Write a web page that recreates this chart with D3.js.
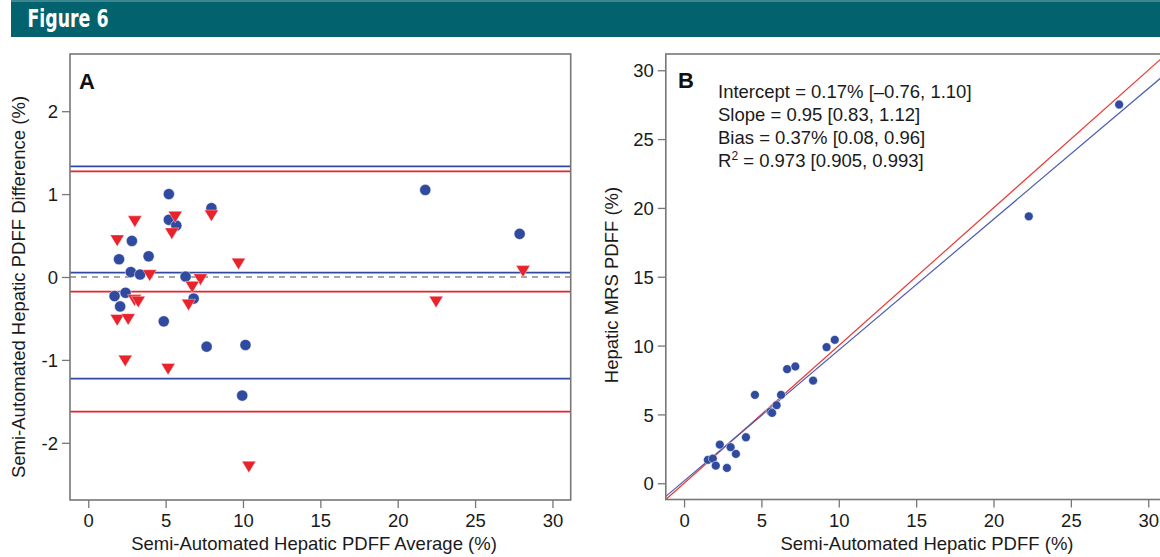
<!DOCTYPE html>
<html>
<head>
<meta charset="utf-8">
<script src="https://cdn.jsdelivr.net/npm/d3@7"></script>
<style>
  body { margin: 0; background: white; }
  svg { display: block; font-family: "Liberation Sans", Arial, Helvetica, sans-serif; }
</style>
</head>
<body>
<div id="fig"></div>
<script>
// Panel A: Bland-Altman, blue circles
const blueAvg  = [5.21, 5.21, 5.69, 7.96, 21.78, 27.88, 2.82, 1.99, 3.90, 2.75, 3.35, 6.29, 1.70, 2.41, 2.06, 6.81, 4.88, 7.65, 10.16, 9.95];
const blueDiff = [1.00, 0.69, 0.62, 0.83, 1.05, 0.52, 0.435, 0.214, 0.25, 0.06, 0.03, 0.005, -0.23, -0.19, -0.355, -0.26, -0.535, -0.84, -0.82, -1.43];
// Panel A: red triangles
const redAvg  = [1.87, 3.01, 5.62, 5.40, 7.96, 9.71, 3.97, 28.1, 7.25, 6.72, 2.99, 3.23, 6.48, 22.48, 1.87, 2.58, 2.39, 5.16, 10.38];
const redDiff = [0.44, 0.67, 0.725, 0.525, 0.74, 0.16, 0.02, 0.07, -0.03, -0.12, -0.28, -0.30, -0.335, -0.30, -0.52, -0.51, -1.01, -1.11, -2.29];
// bias and limits of agreement
const blueLines = [1.335, 0.053, -1.225];
const redLines  = [1.275, -0.177, -1.624];

// Panel B: semi-automated vs MRS
const semiPdff = [28.12, 22.28, 9.74, 9.21, 7.19, 6.66, 8.34, 4.58, 6.27, 5.98, 5.59, 5.69, 4.00, 2.31, 3.01, 3.35, 1.54, 1.86, 2.05, 2.77];
const mrsPdff  = [27.51, 19.39, 10.42, 9.89, 8.48, 8.29, 7.46, 6.42, 6.42, 5.67, 5.21, 5.11, 3.34, 2.81, 2.62, 2.13, 1.70, 1.79, 1.28, 1.11];
const fitIntercept = 0.17, fitSlope = 0.95;
const statLines = ["Intercept = 0.17% [\u20130.76, 1.10]", "Slope = 0.95 [0.83, 1.12]", "Bias = 0.37% [0.08, 0.96]", "R2 = 0.973 [0.905, 0.993]"];

const xTicks = [0, 5, 10, 15, 20, 25, 30];
const yTicksA = [-2, -1, 0, 1, 2];
const yTicksB = [0, 5, 10, 15, 20, 25, 30];

const W = 1160, H = 557;
const BLUE = "#2f4a9e", RED = "#e8232b", GREY = "#777";
const fs = 18.5;

const svg = d3.select("#fig").append("svg")
  .attr("width", W).attr("height", H)
  .attr("viewBox", [0, 0, W, H]);

// header bar
svg.append("rect").attr("x", 11).attr("y", 0).attr("width", W - 11).attr("height", 37).attr("fill", "#02636e");
svg.append("rect").attr("x", 11).attr("y", 0).attr("width", W - 11).attr("height", 2).attr("fill", "#3f8790");
svg.append("text")
  .attr("x", 27.5).attr("y", 27)
  .attr("fill", "white")
  .attr("font-family", "'Liberation Sans Narrow', 'DejaVu Sans Condensed', 'Arial Narrow', sans-serif")
  .attr("font-weight", "bold").attr("font-size", 24)
  .attr("textLength", 81).attr("lengthAdjust", "spacingAndGlyphs")
  .text("Figure 6");

const defs = svg.append("defs");

function panel(id, box, xDom, yDom, yTicks) {
  const x = d3.scaleLinear().domain(xDom).range([box.x0, box.x1]);
  const y = d3.scaleLinear().domain(yDom).range([box.y1, box.y0]);
  defs.append("clipPath").attr("id", "clip" + id)
    .append("rect").attr("x", box.x0).attr("y", box.y0)
    .attr("width", box.x1 - box.x0).attr("height", box.y1 - box.y0);

  const gx = svg.append("g").attr("transform", `translate(0,${box.y1})`)
    .call(d3.axisBottom(x).tickValues(xTicks).tickSize(8).tickPadding(6).tickFormat(d => String(d)));
  const gy = svg.append("g").attr("transform", `translate(${box.x0},0)`)
    .call(d3.axisLeft(y).tickValues(yTicks).tickSize(8).tickPadding(4).tickFormat(d => String(d)));
  [gx, gy].forEach(g => {
    g.select(".domain").remove();
    g.selectAll(".tick line").attr("stroke", GREY).attr("stroke-width", 1.3);
    g.selectAll(".tick text").attr("fill", "#1a1a1a").attr("font-size", fs)
      .attr("font-family", "'Liberation Sans', Arial, sans-serif");
  });
  gy.selectAll(".tick text").attr("dy", "0.36em");

  const plot = svg.append("g").attr("clip-path", `url(#clip${id})`);
  return { x, y, plot };
}

function frame(box) {
  svg.append("rect")
    .attr("x", box.x0).attr("y", box.y0)
    .attr("width", box.x1 - box.x0).attr("height", box.y1 - box.y0)
    .attr("fill", "none").attr("stroke", GREY).attr("stroke-width", 1.6);
}

// ---------- Panel A ----------
const boxA = { x0: 70, x1: 570.7, y0: 54, y1: 500 };
const A = panel("A", boxA, [-1.18, 31.18], [-2.69, 2.69], yTicksA);

A.plot.append("line")
  .attr("x1", boxA.x0).attr("x2", boxA.x1)
  .attr("y1", A.y(0)).attr("y2", A.y(0))
  .attr("stroke", "#888").attr("stroke-width", 1.6).attr("stroke-dasharray", "6,5");

A.plot.selectAll(".bl").data(blueLines).join("line")
  .attr("x1", boxA.x0).attr("x2", boxA.x1)
  .attr("y1", d => A.y(d)).attr("y2", d => A.y(d))
  .attr("stroke", BLUE).attr("stroke-width", 1.8);
A.plot.selectAll(".rl").data(redLines).join("line")
  .attr("x1", boxA.x0).attr("x2", boxA.x1)
  .attr("y1", d => A.y(d)).attr("y2", d => A.y(d))
  .attr("stroke", RED).attr("stroke-width", 1.8);

A.plot.selectAll(".bp").data(d3.range(blueAvg.length)).join("circle")
  .attr("cx", i => A.x(blueAvg[i])).attr("cy", i => A.y(blueDiff[i]))
  .attr("r", 5.6).attr("fill", BLUE)
  .attr("stroke", "white").attr("stroke-width", 0.5);

// downward triangle marker
const tri = (cx, cy, s) => `M${cx - s},${cy - s * 0.8}L${cx + s},${cy - s * 0.8}L${cx},${cy + s * 0.85}Z`;
A.plot.selectAll(".rp").data(d3.range(redAvg.length)).join("path")
  .attr("d", i => tri(A.x(redAvg[i]), A.y(redDiff[i]), 7))
  .attr("fill", RED).attr("stroke", "white").attr("stroke-width", 0.4);

frame(boxA);

svg.append("text").attr("x", 79).attr("y", 88.5)
  .attr("font-weight", "bold").attr("font-size", 22).attr("fill", "#111").text("A");

svg.append("text")
  .attr("x", 314).attr("y", 550)
  .attr("text-anchor", "middle").attr("font-size", fs).attr("fill", "#1a1a1a")
  .text("Semi-Automated Hepatic PDFF Average (%)");
svg.append("text")
  .attr("transform", "translate(25,287) rotate(-90)")
  .attr("text-anchor", "middle").attr("font-size", fs).attr("fill", "#1a1a1a")
  .text("Semi-Automated Hepatic PDFF Difference (%)");

// ---------- Panel B ----------
const boxB = { x0: 665.8, x1: 1166.5, y0: 54, y1: 499.5 };
const B = panel("B", boxB, [-1.18, 31.18], [-1.18, 31.18], yTicksB);
const xd = B.x.domain();

B.plot.append("line")
  .attr("x1", B.x(xd[0])).attr("y1", B.y(xd[0]))
  .attr("x2", B.x(xd[1] + 3)).attr("y2", B.y(xd[1] + 3))
  .attr("stroke", "#ea3a36").attr("stroke-width", 1.2);
B.plot.append("line")
  .attr("x1", B.x(xd[0])).attr("y1", B.y(fitIntercept + fitSlope * xd[0]))
  .attr("x2", B.x(xd[1] + 3)).attr("y2", B.y(fitIntercept + fitSlope * (xd[1] + 3)))
  .attr("stroke", "#4d5cb0").attr("stroke-width", 1.2);

B.plot.selectAll(".bp").data(d3.range(semiPdff.length)).join("circle")
  .attr("cx", i => B.x(semiPdff[i])).attr("cy", i => B.y(mrsPdff[i]))
  .attr("r", 4.4).attr("fill", BLUE)
  .attr("stroke", "white").attr("stroke-width", 0.5);

frame(boxB);

svg.append("text").attr("x", 678).attr("y", 87.5)
  .attr("font-weight", "bold").attr("font-size", 22).attr("fill", "#111").text("B");

const stats = svg.append("g").attr("font-size", fs).attr("fill", "#1a1a1a");
statLines.forEach((s, i) => {
  const t = stats.append("text").attr("x", 718).attr("y", 97.5 + i * 23);
  if (s.startsWith("R2")) {
    t.append("tspan").text("R");
    t.append("tspan").attr("font-size", 12).attr("dy", -7).text("2");
    t.append("tspan").attr("dy", 7).text(s.slice(2));
  } else {
    t.text(s);
  }
});

svg.append("text")
  .attr("x", 927).attr("y", 550)
  .attr("text-anchor", "middle").attr("font-size", fs).attr("fill", "#1a1a1a")
  .text("Semi-Automated Hepatic PDFF (%)");
svg.append("text")
  .attr("transform", "translate(618,285) rotate(-90)")
  .attr("text-anchor", "middle").attr("font-size", fs).attr("fill", "#1a1a1a")
  .text("Hepatic MRS PDFF (%)");
</script>
</body>
</html>
